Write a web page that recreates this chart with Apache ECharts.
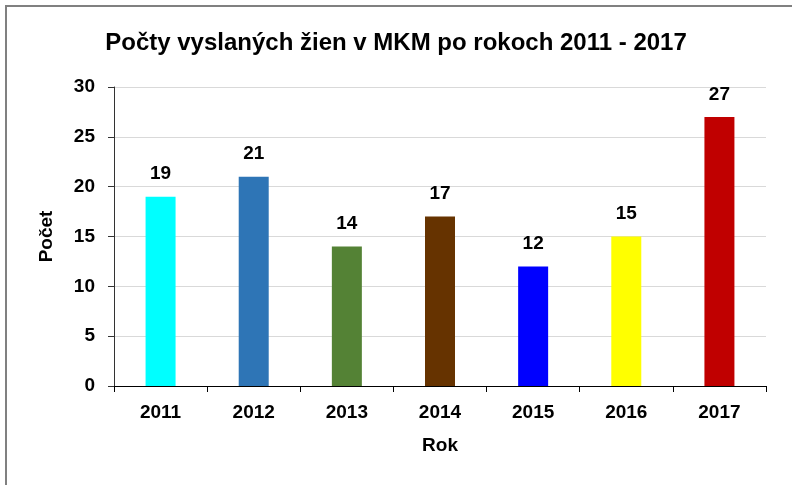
<!DOCTYPE html>
<html>
<head>
<meta charset="utf-8">
<script src="https://cdn.jsdelivr.net/npm/echarts@6/dist/echarts.min.js"></script>
<style>
  html, body { margin: 0; padding: 0; background: #fff; }
  #chart { width: 792px; height: 485px; }
</style>
</head>
<body>
<div id="chart"></div>
<script>
// Data
const roky = ['2011', '2012', '2013', '2014', '2015', '2016', '2017'];
const pocty = [19, 21, 14, 17, 12, 15, 27];
const farby = ['#00FFFF', '#2E75B6', '#548235', '#663300', '#0000FF', '#FFFF00', '#C00000'];

const font = '"Liberation Sans", Arial, sans-serif';

const chart = echarts.init(document.getElementById('chart'));

chart.setOption({
  animation: false,
  backgroundColor: '#fff',
  title: {
    text: 'Počty vyslaných žien v MKM po rokoch 2011 - 2017',
    left: 'center',
    top: 26,
    textStyle: { fontFamily: font, fontSize: 24, fontWeight: 'bold', color: '#000' }
  },
  // ram okolo grafu
  graphic: [{
    type: 'rect',
    shape: { x: 6, y: 6, width: 820, height: 520 },
    style: { fill: 'none', stroke: '#808080', lineWidth: 2 },
    silent: true
  }],
  grid: { left: 114, right: 26, top: 87, bottom: 99 },
  xAxis: {
    type: 'category',
    data: roky,
    name: 'Rok',
    nameLocation: 'middle',
    nameGap: 50,
    nameTextStyle: { fontFamily: font, fontSize: 19, fontWeight: 'bold', color: '#000' },
    axisLine: { lineStyle: { color: '#000', width: 1 } },
    axisTick: { show: true, length: 6, lineStyle: { color: '#000' } },
    axisLabel: { fontFamily: font, fontSize: 19, fontWeight: 'bold', color: '#000', margin: 17 }
  },
  yAxis: {
    type: 'value',
    min: 0,
    max: 30,
    interval: 5,
    name: 'Počet',
    nameLocation: 'middle',
    nameGap: 58,
    nameRotate: 90,
    nameTextStyle: { fontFamily: font, fontSize: 19, fontWeight: 'bold', color: '#000' },
    axisLine: { show: true, lineStyle: { color: '#333', width: 1 } },
    axisTick: { show: true, length: 6, lineStyle: { color: '#333' } },
    axisLabel: { fontFamily: font, fontSize: 19, fontWeight: 'bold', color: '#000', margin: 19 },
    splitLine: { lineStyle: { color: '#d9d9d9', width: 1 } }
  },
  series: [{
    type: 'bar',
    barWidth: 30,
    data: pocty.map((v, i) => ({ value: v, itemStyle: { color: farby[i] } })),
    label: {
      show: true,
      position: 'top',
      distance: 13,
      fontFamily: font,
      fontSize: 19,
      fontWeight: 'bold',
      color: '#000'
    }
  }]
});
</script>
</body>
</html>
